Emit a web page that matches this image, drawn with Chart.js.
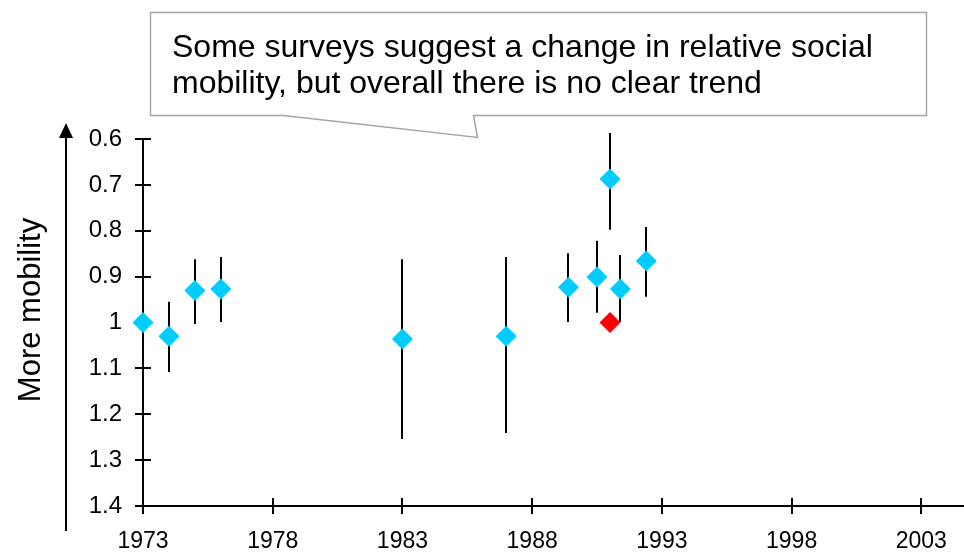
<!DOCTYPE html>
<html>
<head>
<meta charset="utf-8">
<script src="https://cdn.jsdelivr.net/npm/chart.js@4"></script>
<style>
  html, body { margin: 0; padding: 0; background: #fff; }
</style>
</head>
<body>
<canvas id="mobilityChart" width="964" height="552"></canvas>
<script>
// survey years and estimated values
const surveyYears = [1973, 1974, 1975, 1976, 1983, 1987, 1989.4, 1990.5, 1991, 1991.4, 1992.4];
const surveyValues = [1.0, 1.03, 0.93, 0.927, 1.036, 1.03, 0.923, 0.901, 0.687, 0.927, 0.866];
// error bar ends (upper end is the smaller number, the axis is reversed)
const barUpper = [0.93, 0.955, 0.862, 0.857, 0.862, 0.857, 0.849, 0.822, 0.587, 0.853, 0.792];
const barLower = [1.07, 1.108, 1.003, 0.999, 1.254, 1.241, 0.999, 0.979, 0.798, 0.999, 0.944];
// the single red reference point
const baseYears = [1991];
const baseValues = [1.0];
// axis ticks
const xTickYears = [1973, 1978, 1983, 1988, 1993, 1998, 2003];
const yTickValues = [0.6, 0.7, 0.8, 0.9, 1.0, 1.1, 1.2, 1.3, 1.4];

const calloutLines = [
  "Some surveys suggest a change in relative social",
  "mobility, but overall there is no clear trend"
];
const yTitle = "More mobility";

const FONT = "'Liberation Sans', Arial, sans-serif";

// draws the error bars behind the diamonds
const errorBars = {
  id: "errorBars",
  beforeDatasetsDraw(chart) {
    const ctx = chart.ctx;
    const x = chart.scales.x;
    const y = chart.scales.y;
    ctx.save();
    ctx.strokeStyle = "#000";
    ctx.lineWidth = 2;
    surveyYears.forEach((yr, i) => {
      const px = Math.round(x.getPixelForValue(yr));
      ctx.beginPath();
      ctx.moveTo(px, y.getPixelForValue(barUpper[i]));
      ctx.lineTo(px, y.getPixelForValue(barLower[i]));
      ctx.stroke();
    });
    ctx.restore();
  }
};

// axis lines with cross ticks, title, arrow and the callout box
const decorations = {
  id: "decorations",
  beforeDraw(chart) {
    const ctx = chart.ctx;
    const area = chart.chartArea;
    const x = chart.scales.x;
    const y = chart.scales.y;
    ctx.save();
    ctx.fillStyle = "#fff";
    ctx.fillRect(0, 0, chart.width, chart.height);

    ctx.strokeStyle = "#000";
    ctx.lineWidth = 2;
    const ax = Math.round(area.left);
    const ay = Math.round(area.bottom);

    ctx.beginPath();
    ctx.moveTo(ax, area.top);
    ctx.lineTo(ax, ay + 8);
    ctx.moveTo(ax - 8, ay);
    ctx.lineTo(chart.width, ay);
    yTickValues.forEach(v => {
      const py = Math.round(y.getPixelForValue(v));
      ctx.moveTo(ax - 8, py);
      ctx.lineTo(ax + 8, py);
    });
    xTickYears.forEach(v => {
      const px = Math.round(x.getPixelForValue(v));
      ctx.moveTo(px, ay - 8);
      ctx.lineTo(px, ay + 8);
    });
    ctx.stroke();

    // arrow next to the y title
    ctx.beginPath();
    ctx.moveTo(66, 531);
    ctx.lineTo(66, 136);
    ctx.stroke();
    ctx.fillStyle = "#000";
    ctx.beginPath();
    ctx.moveTo(66, 123);
    ctx.lineTo(59, 138);
    ctx.lineTo(73, 138);
    ctx.closePath();
    ctx.fill();

    // rotated y title
    ctx.translate(31, 310);
    ctx.rotate(-Math.PI / 2);
    ctx.font = "31px " + FONT;
    ctx.textAlign = "center";
    ctx.textBaseline = "middle";
    ctx.fillText(yTitle, 0, 0);
    ctx.restore();
  },
  afterDraw(chart) {
    const ctx = chart.ctx;
    ctx.save();
    ctx.beginPath();
    ctx.moveTo(150.5, 12.5);
    ctx.lineTo(926.5, 12.5);
    ctx.lineTo(926.5, 115.5);
    ctx.lineTo(473.5, 115.5);
    ctx.lineTo(477.5, 137.5);
    ctx.lineTo(283.5, 115.5);
    ctx.lineTo(150.5, 115.5);
    ctx.closePath();
    ctx.fillStyle = "#fff";
    ctx.fill();
    ctx.strokeStyle = "#a6a6a6";
    ctx.lineWidth = 1.5;
    ctx.stroke();

    ctx.fillStyle = "#000";
    ctx.font = "32px " + FONT;
    ctx.textAlign = "left";
    ctx.textBaseline = "alphabetic";
    ctx.fillText(calloutLines[0], 172, 57);
    ctx.fillText(calloutLines[1], 172, 93);
    ctx.restore();
  }
};

new Chart(document.getElementById("mobilityChart"), {
  type: "scatter",
  data: {
    datasets: [
      {
        label: "Surveys",
        data: surveyYears.map((yr, i) => ({ x: yr, y: surveyValues[i] })),
        pointStyle: "rectRot",
        pointRadius: 10.5,
        pointHoverRadius: 10.5,
        backgroundColor: "#00ccff",
        borderWidth: 0,
        clip: false
      },
      {
        label: "Base",
        data: baseYears.map((yr, i) => ({ x: yr, y: baseValues[i] })),
        pointStyle: "rectRot",
        pointRadius: 10.5,
        pointHoverRadius: 10.5,
        backgroundColor: "#ff0000",
        borderWidth: 0,
        clip: false
      }
    ]
  },
  options: {
    responsive: false,
    animation: false,
    layout: { padding: { top: 139, left: 0, right: 0, bottom: 0 } },
    plugins: {
      legend: { display: false },
      tooltip: { enabled: false }
    },
    scales: {
      x: {
        type: "linear",
        min: 1973,
        max: 2004.24,
        grid: { display: false },
        border: { display: false },
        afterBuildTicks: s => { s.ticks = xTickYears.map(v => ({ value: v })); },
        afterFit: s => { s.height = 46; },
        ticks: {
          padding: 14,
          color: "#000",
          font: { family: FONT, size: 23 },
          maxRotation: 0,
          callback: v => String(v)
        }
      },
      y: {
        type: "linear",
        reverse: true,
        min: 0.6,
        max: 1.4,
        grid: { display: false },
        border: { display: false },
        afterBuildTicks: s => { s.ticks = yTickValues.map(v => ({ value: v })); },
        afterFit: s => { s.width = 143; },
        ticks: {
          padding: 13,
          color: "#000",
          font: { family: FONT, size: 24 },
          callback: v => String(Math.round(v * 10) / 10)
        }
      }
    }
  },
  plugins: [errorBars, decorations]
});
</script>
</body>
</html>
